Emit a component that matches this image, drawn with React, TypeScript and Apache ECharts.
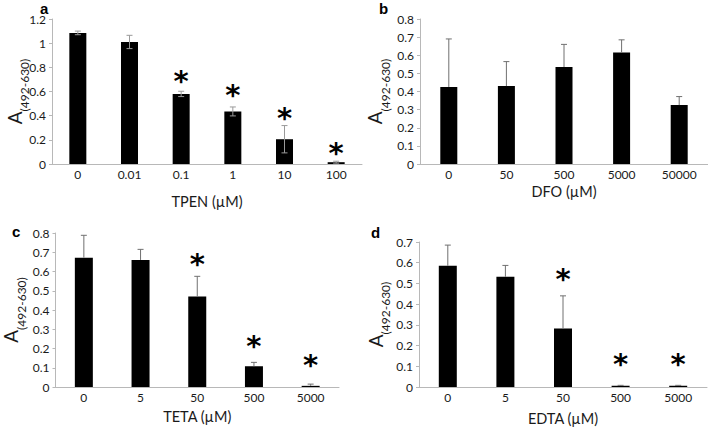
import React, { useEffect, useRef } from "react";
import * as echarts from "echarts";

// Panel a: TPEN
const catsA = ["0", "0.01", "0.1", "1", "10", "100"];
const valsA = [1.085, 1.01, 0.58, 0.435, 0.205, 0.015];
const errUpA = [0.015, 0.055, 0.022, 0.037, 0.113, 0.008];
const errDnA = [0.015, 0.055, 0.022, 0.037, 0.113, 0.008];
const starA = [null, null, 0.73, 0.61, 0.42, 0.13];

// Panel b: DFO
const catsB = ["0", "50", "500", "5000", "50000"];
const valsB = [0.425, 0.43, 0.535, 0.615, 0.325];
const errUpB = [0.265, 0.135, 0.125, 0.07, 0.047];
const errDnB = [0, 0, 0, 0, 0];
const starB = [null, null, null, null, null];

// Panel c: TETA
const catsC = ["0", "5", "50", "500", "5000"];
const valsC = [0.672, 0.66, 0.47, 0.108, 0.006];
const errUpC = [0.116, 0.055, 0.105, 0.02, 0.009];
const errDnC = [0, 0, 0, 0, 0];
const starC = [null, null, 0.665, 0.24, 0.138];

// Panel d: EDTA
const catsD = ["0", "5", "50", "500", "5000"];
const valsD = [0.585, 0.532, 0.283, 0.006, 0.006];
const errUpD = [0.1, 0.055, 0.157, 0.002, 0.002];
const errDnD = [0, 0, 0, 0, 0];
const starD = [null, null, 0.547, 0.137, 0.137];

const FONT = "Lato";

export default function App() {
  const ref = useRef<HTMLDivElement>(null);
  useEffect(() => {
    document.body.style.margin = "0";
    const chart = echarts.init(ref.current!, null, { renderer: "svg" });

    const panels = [
      { cats: catsA, vals: valsA, up: errUpA, dn: errDnA, star: starA, max: 1.2, interval: 0.2, name: "TPEN (µM)", nameGap: 30, yGap: 21.5, grid: { left: 52, top: 19, width: 310, height: 145 }, barWidth: 17, errColor: "#9a9a9a" },
      { cats: catsB, vals: valsB, up: errUpB, dn: errDnB, star: starB, max: 0.8, interval: 0.1, name: "DFO (µM)", nameGap: 20, yGap: 29, grid: { left: 420, top: 19, width: 288, height: 145 }, barWidth: 17, errColor: "#707070" },
      { cats: catsC, vals: valsC, up: errUpC, dn: errDnC, star: starC, max: 0.8, interval: 0.1, name: "TETA (µM)", nameGap: 22, yGap: 28.5, grid: { left: 52, top: 233, width: 287, height: 154 }, barWidth: 18, errColor: "#707070" },
      { cats: catsD, vals: valsD, up: errUpD, dn: errDnD, star: starD, max: 0.7, interval: 0.1, name: "EDTA (µM)", nameGap: 24, yGap: 27.5, grid: { left: 419, top: 242, width: 288, height: 145 }, barWidth: 18, errColor: "#707070" },
    ];

    const grid: any[] = [];
    const xAxis: any[] = [];
    const yAxis: any[] = [];
    const series: any[] = [];

    panels.forEach((p, i) => {
      grid.push({ ...p.grid, containLabel: false });
      xAxis.push({
        type: "category",
        gridIndex: i,
        data: p.cats,
        axisLine: { show: true, lineStyle: { color: "#b8b8b8", width: 1 } },
        axisTick: { show: false },
        axisLabel: { color: "#1a1a1a", fontSize: 12, fontFamily: FONT, margin: 4 },
        name: p.name,
        nameLocation: "middle",
        nameGap: p.nameGap,
        nameMoveOverlap: false,
        nameTextStyle: { color: "#1a1a1a", fontSize: 14.5, fontFamily: FONT },
      });
      yAxis.push({
        type: "value",
        gridIndex: i,
        min: 0,
        max: p.max,
        interval: p.interval,
        splitLine: { show: false },
        axisLine: { show: true, lineStyle: { color: "#b8b8b8", width: 1 } },
        axisTick: { show: true, length: 3, lineStyle: { color: "#b8b8b8" } },
        axisLabel: { color: "#1a1a1a", fontSize: 12, fontFamily: FONT, margin: 6 },
        name: "{a|A}{s|(492-630)}",
        nameLocation: "middle",
        nameRotate: 90,
        nameGap: p.yGap,
        nameMoveOverlap: false,
        nameTextStyle: {
          color: "#1a1a1a",
          fontFamily: FONT,
          rich: {
            a: { fontSize: 19, fontFamily: FONT, color: "#1a1a1a", lineHeight: 33 },
            s: { fontSize: 12, fontFamily: FONT, color: "#1a1a1a", lineHeight: 13, verticalAlign: "bottom" },
          },
        },
      });
      series.push({
        type: "bar",
        xAxisIndex: i,
        yAxisIndex: i,
        data: p.vals,
        barWidth: p.barWidth,
        itemStyle: { color: "#000" },
        z: 2,
      });
      const errData = p.vals.map((v, k) => [k, v, p.up[k], p.dn[k]]);
      const errColor = p.errColor;
      series.push({
        type: "custom",
        xAxisIndex: i,
        yAxisIndex: i,
        data: errData,
        z: 3,
        renderItem: (params: any, api: any) => {
          const x = api.value(0);
          const v = api.value(1);
          const u = api.value(2);
          const d = api.value(3);
          const top = api.coord([x, v + u]);
          const bot = api.coord([x, v - d]);
          const hw = 3;
          const style = { stroke: errColor, lineWidth: 1 };
          const children: any[] = [
            { type: "line", shape: { x1: top[0], y1: top[1], x2: bot[0], y2: bot[1] }, style },
            { type: "line", shape: { x1: top[0] - hw, y1: top[1], x2: top[0] + hw, y2: top[1] }, style },
          ];
          if (d > 0) {
            children.push({ type: "line", shape: { x1: bot[0] - hw, y1: bot[1], x2: bot[0] + hw, y2: bot[1] }, style });
          }
          return { type: "group", children };
        },
      });
      const starData = p.star
        .map((s, k) => (s === null ? null : [k, s]))
        .filter((s) => s !== null);
      series.push({
        type: "custom",
        xAxisIndex: i,
        yAxisIndex: i,
        data: starData,
        z: 4,
        renderItem: (params: any, api: any) => {
          const pt = api.coord([api.value(0), api.value(1)]);
          return {
            type: "text",
            x: pt[0],
            y: pt[1] + 5,
            style: {
              text: "*",
              fontSize: 29,
              fontWeight: "bold",
              fontFamily: "DejaVu Sans",
              fill: "#000",
              align: "center",
              verticalAlign: "middle",
            },
          };
        },
      });
    });

    const labels = [
      { t: "a", x: 40, y: 8.5 },
      { t: "b", x: 379, y: 8.5 },
      { t: "c", x: 12, y: 231 },
      { t: "d", x: 371, y: 232 },
    ];

    chart.setOption({
      animation: false,
      grid,
      xAxis,
      yAxis,
      series,
      graphic: labels.map((l) => ({
        type: "text",
        x: l.x,
        y: l.y,
        style: { text: l.t, fontSize: 15, fontWeight: "bold", fontFamily: "Liberation Sans", fill: "#000", verticalAlign: "middle" },
      })),
    });
    return () => chart.dispose();
  }, []);
  return <div ref={ref} style={{ width: 708, height: 428 }} />;
}
